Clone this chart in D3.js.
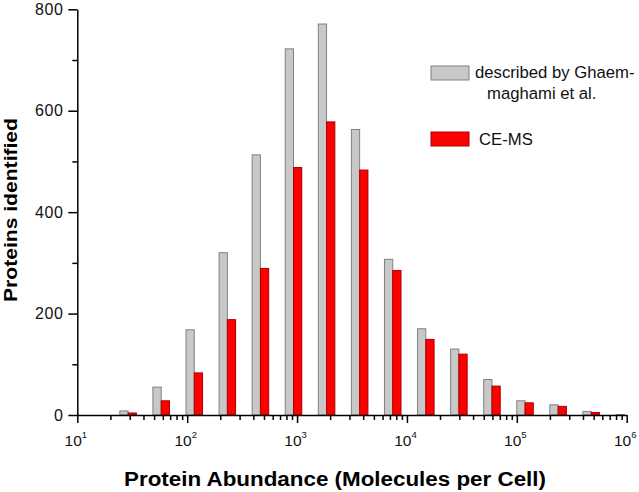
<!DOCTYPE html>
<html><head><meta charset="utf-8">
<script src="https://cdn.jsdelivr.net/npm/d3@7"></script>
<style>body{margin:0;background:#fff}</style>
</head><body>
<svg id="c" width="639" height="492"></svg>
<script>
// Bin centres (molecules per cell, log2 bins)
const binCenters = [29, 58, 116, 232, 464, 928, 1856, 3712, 7424, 14848, 29696, 59392, 118784, 237568, 475136, 950272];
// Proteins identified per bin
const ghaemmaghami = [8, 55, 168, 320, 513, 722, 771, 563, 307, 170, 130, 70, 28, 20, 7, 1];
const ceMS         = [4, 28, 83, 188, 289, 488, 578, 483, 285, 149, 120, 57, 24, 17, 5, 0];
const yTicks = [0, 200, 400, 600, 800];
const yMinorTicks = [100, 300, 500, 700];
const xDecades = [1e1, 1e2, 1e3, 1e4, 1e5, 1e6];
const xExponents = ["1", "2", "3", "4", "5", "6"];
const legendLabels = [["described by Ghaem-", "maghami et al."], ["CE-MS"]];
const xTitle = "Protein Abundance (Molecules per Cell)";
const yTitle = "Proteins identified";

const svg = d3.select("#c");
const FONT = "'Liberation Sans', Arial, Helvetica, sans-serif";
const x = d3.scaleLog().domain([10, 1e6]).range([77.3, 626.7]);
const y = d3.scaleLinear().domain([0, 800]).range([415, 9.3]);

const series = [
  {values: ghaemmaghami, fill: "#c8c8c8", stroke: "#808080", side: -1},
  {values: ceMS, fill: "#ff0000", stroke: "#a80000", side: 0}
];

const bars = svg.append("g");
series.forEach(s => {
  bars.selectAll(null).data(binCenters.map((c, i) => ({c, v: s.values[i]})))
    .enter().append("rect")
    .attr("x", d => { const w = 0.25 * (x(d.c * 2) - x(d.c)); return x(d.c) + s.side * w; })
    .attr("width", d => 0.25 * (x(d.c * 2) - x(d.c)))
    .attr("y", d => y(d.v))
    .attr("height", d => y(0) - y(d.v))
    .attr("fill", s.fill)
    .attr("stroke", s.stroke)
    .attr("stroke-width", 1);
});

// Y axis
const yAxisG = svg.append("g").attr("transform", `translate(${x(10)},0)`);
yAxisG.call(d3.axisLeft(y).tickValues(yTicks).tickSize(9).tickSizeOuter(0).tickPadding(5).tickFormat(d3.format("d")));
const yMinorG = svg.append("g").attr("transform", `translate(${x(10)},0)`);
yMinorG.call(d3.axisLeft(y).tickValues(yMinorTicks).tickSize(5).tickSizeOuter(0).tickFormat(""));
yMinorG.select(".domain").remove();
[yAxisG, yMinorG].forEach(g => {
  g.selectAll("path,line").attr("stroke", "#000").attr("stroke-width", 1.5);
});
yAxisG.selectAll("text").attr("font-family", FONT).attr("font-size", 16).attr("fill", "#111").attr("letter-spacing", 0.5);

// X axis
const xMinor = [];
for (let d = 10; d < 1e6; d *= 10) for (let k = 2; k <= 9; k++) xMinor.push(d * k);
const xAxisG = svg.append("g").attr("transform", `translate(0,${y(0)})`);
xAxisG.call(d3.axisBottom(x).tickValues(xDecades).tickSize(8).tickSizeOuter(0).tickFormat(""));
const xMinorG = svg.append("g").attr("transform", `translate(0,${y(0)})`);
xMinorG.call(d3.axisBottom(x).tickValues(xMinor).tickSize(5).tickSizeOuter(0).tickFormat(""));
xMinorG.select(".domain").remove();
[xAxisG, xMinorG].forEach(g => {
  g.selectAll("path,line").attr("stroke", "#000").attr("stroke-width", 1.5);
});
const xl = svg.append("g");
xDecades.forEach((d, i) => {
  const t = xl.append("text").attr("x", x(d) - 1.5).attr("y", 446)
    .attr("text-anchor", "middle").attr("font-family", FONT).attr("font-size", 15.5).attr("fill", "#111");
  t.append("tspan").text("10");
  t.append("tspan").attr("dy", -8).attr("font-size", 9.5).text(xExponents[i]);
});

// Titles
svg.append("text").attr("x", 335).attr("y", 486).attr("text-anchor", "middle")
  .attr("font-family", FONT).attr("font-weight", "bold").attr("font-size", 20).attr("fill", "#000")
  .attr("textLength", 422).attr("lengthAdjust", "spacingAndGlyphs")
  .text(xTitle);
svg.append("text").attr("transform", "translate(16.5,210) rotate(-90)").attr("text-anchor", "middle")
  .attr("font-family", FONT).attr("font-weight", "bold").attr("font-size", 18).attr("fill", "#000")
  .attr("textLength", 184).attr("lengthAdjust", "spacingAndGlyphs")
  .text(yTitle);

// Legend
const leg = svg.append("g");
const legY = [66, 132];
series.forEach((s, i) => {
  leg.append("rect").attr("x", 431).attr("y", legY[i]).attr("width", 38).attr("height", 14)
    .attr("fill", s.fill).attr("stroke", s.stroke).attr("stroke-width", 1);
});
leg.append("text").attr("x", 475).attr("y", 78).attr("font-family", FONT).attr("font-size", 16.7).attr("fill", "#111").text(legendLabels[0][0]);
leg.append("text").attr("x", 487).attr("y", 99).attr("font-family", FONT).attr("font-size", 16.7).attr("fill", "#111").text(legendLabels[0][1]);
leg.append("text").attr("x", 479).attr("y", 145).attr("font-family", FONT).attr("font-size", 16.7).attr("fill", "#111").text(legendLabels[1][0]);
</script>
</body></html>
